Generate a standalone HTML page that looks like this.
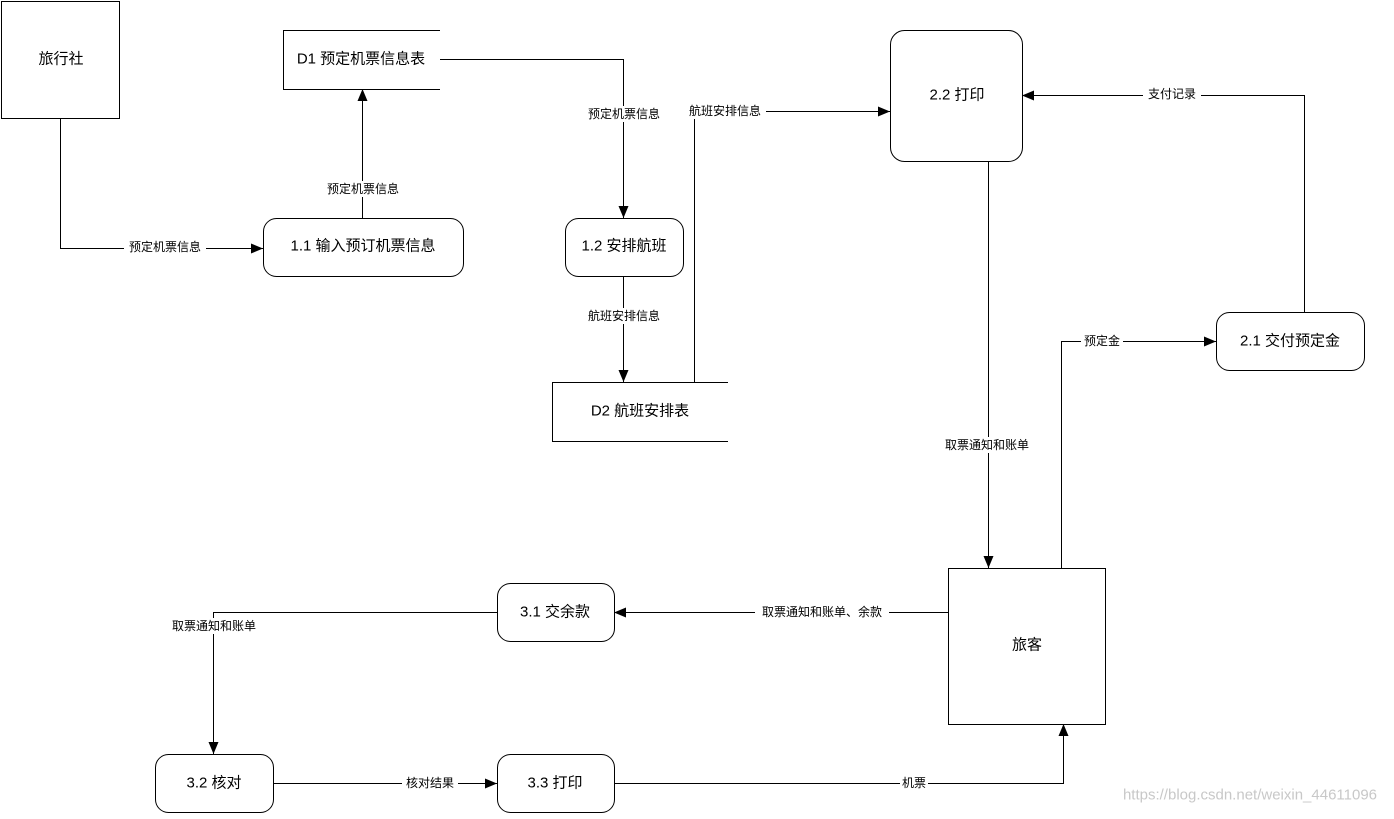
<!DOCTYPE html>
<html><head><meta charset="utf-8"><style>
html,body{margin:0;padding:0;background:#fff;}
svg text{font-family:"Liberation Sans","Noto Sans CJK SC",sans-serif;}
.n{font-size:15px;text-anchor:middle;dominant-baseline:central;fill:#000}
.l{font-size:12px;text-anchor:middle;dominant-baseline:central;fill:#000}
</style></head><body>
<svg width="1394" height="814" viewBox="0 0 1394 814" xmlns="http://www.w3.org/2000/svg">
<defs><marker id="a" markerWidth="12" markerHeight="10" refX="12" refY="5" orient="auto" markerUnits="userSpaceOnUse"><path d="M0,0 L12,5 L0,10 Z" fill="#000"/></marker></defs>
<g fill="none" stroke="#000" stroke-width="1">
<rect x="1.5" y="1.5" width="118" height="117"/>
<path d="M440,30.5 H283.5 V89.5 H440"/>
<rect x="263.5" y="218.5" width="200" height="58" rx="13"/>
<rect x="565.5" y="218.5" width="118" height="58" rx="13"/>
<path d="M728,382.5 H552.5 V441.5 H728"/>
<rect x="890.5" y="30.5" width="132" height="131" rx="14"/>
<rect x="1216.5" y="312.5" width="148" height="58" rx="13"/>
<rect x="948.5" y="568.5" width="157" height="156"/>
<rect x="497.5" y="583.5" width="117" height="58" rx="13"/>
<rect x="155.5" y="754.5" width="118" height="58" rx="13"/>
<rect x="497.5" y="754.5" width="117" height="58" rx="13"/>
<path d="M60.5,118 V248.5 H263" marker-end="url(#a)"/>
<path d="M362.5,218 V89" marker-end="url(#a)"/>
<path d="M440,59.5 H623.5 V218" marker-end="url(#a)"/>
<path d="M623.5,276 V382" marker-end="url(#a)"/>
<path d="M694.5,382 V111.5 H890" marker-end="url(#a)"/>
<path d="M1304.5,312 V95.5 H1022" marker-end="url(#a)"/>
<path d="M988.5,161 V568" marker-end="url(#a)"/>
<path d="M1061.5,568 V341.5 H1216" marker-end="url(#a)"/>
<path d="M948,612.5 H614" marker-end="url(#a)"/>
<path d="M497,612.5 H213.5 V754" marker-end="url(#a)"/>
<path d="M273,783.5 H497" marker-end="url(#a)"/>
<path d="M614,783.5 H1063.5 V724" marker-end="url(#a)"/>
</g>
<g fill="#fff">
<rect x="124" y="239" width="82" height="16"/>
<rect x="322" y="181" width="82" height="16"/>
<rect x="583" y="106" width="82" height="16"/>
<rect x="583" y="308" width="82" height="16"/>
<rect x="684" y="103" width="82" height="16"/>
<rect x="1143" y="86" width="58" height="16"/>
<rect x="940" y="437" width="94" height="16"/>
<rect x="1081" y="333" width="42" height="16"/>
<rect x="755" y="604" width="134" height="16"/>
<rect x="166" y="618" width="96" height="16"/>
<rect x="402" y="775" width="56" height="16"/>
<rect x="900" y="775" width="28" height="16"/>
</g>
<text class="n" x="61" y="59">旅行社</text>
<text class="n" x="361" y="59">D1 预定机票信息表</text>
<text class="n" x="363" y="246">1.1 输入预订机票信息</text>
<text class="n" x="624" y="246">1.2 安排航班</text>
<text class="n" x="640" y="411">D2 航班安排表</text>
<text class="n" x="957" y="95">2.2 打印</text>
<text class="n" x="1290" y="341">2.1 交付预定金</text>
<text class="n" x="1027" y="645">旅客</text>
<text class="n" x="555" y="612">3.1 交余款</text>
<text class="n" x="214" y="783">3.2 核对</text>
<text class="n" x="555" y="783">3.3 打印</text>
<text class="l" x="165" y="247">预定机票信息</text>
<text class="l" x="363" y="189">预定机票信息</text>
<text class="l" x="624" y="114">预定机票信息</text>
<text class="l" x="624" y="316">航班安排信息</text>
<text class="l" x="725" y="111">航班安排信息</text>
<text class="l" x="1172" y="94">支付记录</text>
<text class="l" x="987" y="445">取票通知和账单</text>
<text class="l" x="1102" y="341">预定金</text>
<text class="l" x="822" y="612">取票通知和账单、余款</text>
<text class="l" x="214" y="626">取票通知和账单</text>
<text class="l" x="430" y="783">核对结果</text>
<text class="l" x="914" y="783">机票</text>
<text x="1250" y="795" style="font-size:15px;text-anchor:middle;dominant-baseline:central;fill:#c8c8c8">https://blog.csdn.net/weixin_44611096</text>
</svg>
</body></html>
